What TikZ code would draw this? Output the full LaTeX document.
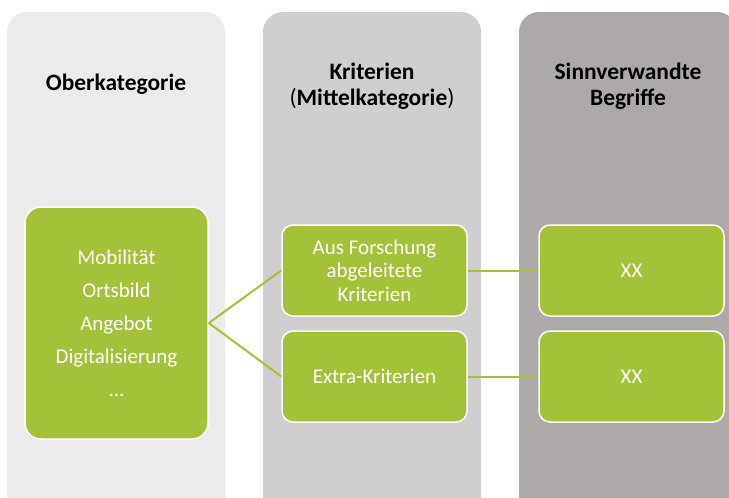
\documentclass[tikz,border=0pt]{standalone}
\usepackage{fontspec}
\setmainfont{Carlito}
\definecolor{oberfill}{HTML}{EBEBEB}
\definecolor{mittelfill}{HTML}{D0CECF}
\definecolor{begrifffill}{HTML}{ADA9A8}
\definecolor{kritgreen}{HTML}{A3C139}

\begin{document}
\begin{tikzpicture}[x=1pt,y=1pt,
		column/.style={rounded corners=20pt},
		greenbox/.style={draw=white, line width=1.5pt, fill=kritgreen, rounded corners=11pt, text=white, align=center, inner sep=0pt, minimum width=185pt, minimum height=91pt, font=\fontsize{21}{23.5}\selectfont},
		head/.style={align=center, font=\bfseries\fontsize{23.5}{26}\selectfont},
		link/.style={draw=kritgreen, line width=2pt}]
		\useasboundingbox (0,0) rectangle (729,-498);
		\clip (0,0) rectangle (729,-498);
		\fill[oberfill, column] (7,-12) rectangle (225,-540);
		\fill[mittelfill, column] (263,-12) rectangle (481,-540);
		\fill[begrifffill, column] (519,-12) rectangle (737,-540);
		\node[head] (ueber1) at (116,-84) {Oberkategorie};
		\node[head] (ueber2) at (372,-86) {Kriterien\\{\mdseries(}Mittelkategorie{\mdseries)}};
		\node[head] (ueber3) at (628,-86) {Sinnverwandte\\Begriffe};
		\node[greenbox, minimum width=183pt, minimum height=232pt, rounded corners=16pt, font=\fontsize{21}{33}\selectfont] (ober) at (116.5,-323) {Mobilität\\Ortsbild\\Angebot\\Digitalisierung\\...};
		\node[greenbox] (forsch) at (374.5,-270.5) {Aus Forschung\\abgeleitete\\Kriterien};
		\node[greenbox] (extra) at (374.5,-376.5) {Extra-Kriterien};
		\node[greenbox] (xx1) at (631.5,-270.5) {XX};
		\node[greenbox] (xx2) at (631.5,-376.5) {XX};
		\draw[link] (ober.east) -- (forsch.west);
		\draw[link] (ober.east) -- (extra.west);
		\draw[link] (forsch.east) -- (xx1.west);
		\draw[link] (extra.east) -- (xx2.west);
	\end{tikzpicture}
\end{document}
